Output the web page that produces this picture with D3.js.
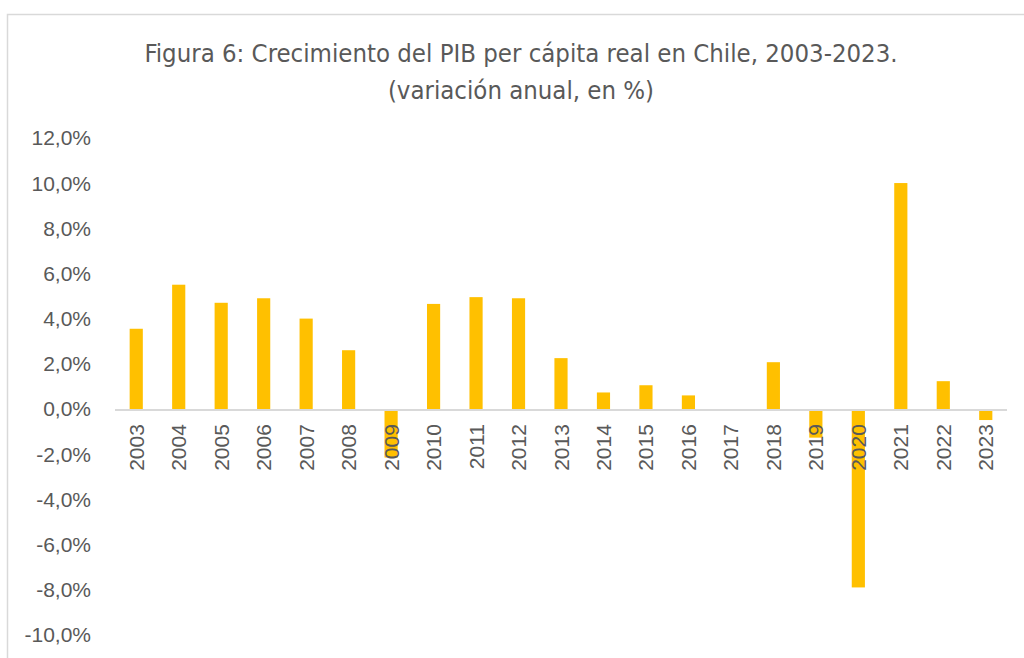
<!DOCTYPE html>
<html>
<head>
<meta charset="utf-8">
<script src="https://cdn.jsdelivr.net/npm/d3@7"></script>
<style>
  body { margin: 0; background: #fff; }
  svg text { fill: #595959; }
</style>
</head>
<body>
<svg id="chart" width="1024" height="658"></svg>
<script>
// data
const years = ["2003", "2004", "2005", "2006", "2007", "2008", "2009", "2010", "2011", "2012",
  "2013", "2014", "2015", "2016", "2017", "2018", "2019", "2020", "2021", "2022", "2023"];
const growth = [3.6, 5.55, 4.75, 4.95, 4.05, 2.65, -2.1, 4.7, 5.0, 4.95,
  2.3, 0.78, 1.1, 0.65, 0.0, 2.12, -1.22, -7.85, 10.05, 1.28, -0.44];
const yTicks = [-10, -8, -6, -4, -2, 0, 2, 4, 6, 8, 10, 12];
const titleLines = ["Figura 6: Crecimiento del PIB per cápita real en Chile, 2003-2023.", "(variación anual, en %)"];

const svg = d3.select("#chart");
const margin = {top: 139, right: 17, bottom: 22, left: 115};

// outer chart frame
svg.append("rect")
  .attr("x", 7.5).attr("y", 14.5)
  .attr("width", 1030).attr("height", 660)
  .attr("fill", "none")
  .attr("stroke", "#d9d9d9")
  .attr("stroke-width", 1.5);

// title
svg.append("text")
  .attr("x", 521)
  .attr("text-anchor", "middle")
  .style("font-family", "'Liberation Sans Narrow', 'DejaVu Sans Condensed', 'Roboto', sans-serif")
  .style("font-stretch", "condensed")
  .style("font-size", "25.5px")
  .selectAll("tspan")
  .data(titleLines)
  .enter().append("tspan")
  .attr("x", 521)
  .attr("y", (d, i) => 62 + i * 37)
  .text(d => d);

const g = svg.append("g")
  .attr("transform", "translate(" + margin.left + "," + margin.top + ")");

const x = d3.scaleBand()
  .domain(years)
  .range([0, 892])
  .paddingInner(0.69)
  .paddingOuter(0.345);

const y = d3.scaleLinear()
  .domain([-10, 12])
  .range([497, 0]);

// y axis labels, spanish format with hyphen minus
const fmt = v => d3.format(".1f")(v).replace(".", ",").replace("\u2212", "-") + "%";
const yAxis = d3.axisLeft(y).tickValues(yTicks).tickFormat(fmt).tickSize(0).tickPadding(24);
g.append("g")
  .call(yAxis)
  .call(a => a.select(".domain").remove())
  .attr("font-family", null)
  .attr("font-size", null)
  .selectAll("text")
  .style("font-family", "'Liberation Sans', Arial, sans-serif")
  .style("font-size", "21px")
  .attr("dy", "0.28em")
  .attr("fill", "#595959");

// bars
g.selectAll(".bar")
  .data(growth)
  .enter().append("rect")
  .attr("class", "bar")
  .attr("x", (d, i) => x(years[i]))
  .attr("width", x.bandwidth())
  .attr("y", d => y(Math.max(0, d)))
  .attr("height", d => Math.abs(y(d) - y(0)))
  .attr("fill", "#ffc000");

// zero line
g.append("line")
  .attr("x1", 0).attr("x2", 892)
  .attr("y1", y(0)).attr("y2", y(0))
  .attr("stroke", "#d9d9d9")
  .attr("stroke-width", 2);

// category labels, rotated, next to the zero line
g.selectAll(".cat")
  .data(years)
  .enter().append("text")
  .attr("class", "cat")
  .attr("transform", d => "translate(" + (x(d) + x.bandwidth() / 2 + 7.5) + "," + (y(0) + 14) + ") rotate(-90)")
  .attr("text-anchor", "end")
  .style("font-family", "'Liberation Sans', Arial, sans-serif")
  .style("font-size", "21px")
  .text(d => d);
</script>
</body>
</html>
